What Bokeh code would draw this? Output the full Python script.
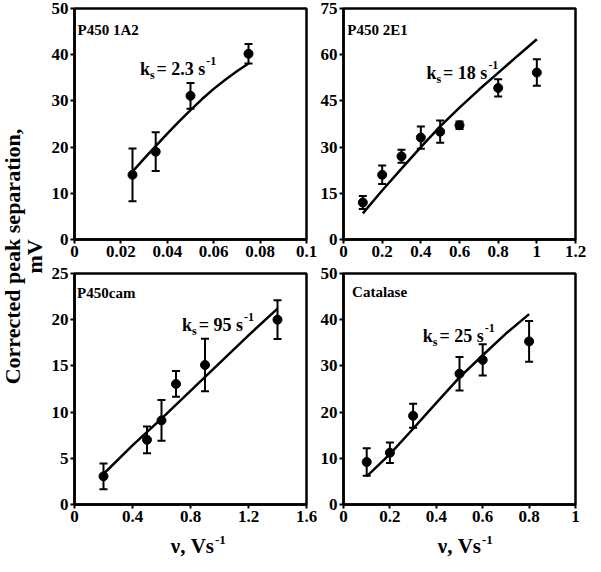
from bokeh.plotting import figure
from bokeh.models import Range1d, FixedTicker, Whisker, TeeHead, ColumnDataSource, Label
from bokeh.layouts import row, column
from bokeh.embed import file_html
from bokeh.resources import INLINE

FONT = "Liberation Serif"

# ---------------- data ----------------
# P450 1A2
x1 = [0.025, 0.035, 0.05, 0.075]
y1 = [14.0, 19.0, 31.1, 40.2]
e1 = [5.7, 4.2, 2.8, 2.1]
fit1_x = [0.025, 0.03, 0.035, 0.04, 0.045, 0.05, 0.055, 0.06, 0.065, 0.07, 0.075]
fit1_y = [14.7, 17.5, 20.2, 22.9, 25.5, 28.0, 30.4, 32.6, 34.6, 36.4, 38.1]

# P450 2E1
x2 = [0.1, 0.2, 0.3, 0.4, 0.5, 0.6, 0.8, 1.0]
y2 = [12.0, 21.0, 27.0, 33.1, 35.0, 37.1, 49.2, 54.2]
e2 = [2.1, 3.0, 2.1, 3.6, 3.6, 1.2, 2.8, 4.3]
fit2_x = [0.1, 0.2, 0.3, 0.4, 0.5, 0.6, 0.7, 0.8, 0.9, 1.0]
fit2_y = [8.5, 15.9, 23.0, 30.0, 36.7, 42.8, 48.6, 54.1, 59.6, 65.0]

# P450cam
x3 = [0.2, 0.5, 0.6, 0.7, 0.9, 1.4]
y3 = [3.05, 7.0, 9.1, 13.05, 15.1, 20.0]
e3 = [1.4, 1.45, 2.2, 1.4, 2.85, 2.1]
fit3_x = [0.2, 0.4, 0.6, 0.8, 1.0, 1.2, 1.4]
fit3_y = [3.3, 6.4, 9.3, 12.3, 15.3, 18.3, 21.2]

# Catalase
x4 = [0.1, 0.2, 0.3, 0.5, 0.6, 0.8]
y4 = [9.2, 11.2, 19.2, 28.3, 31.3, 35.3]
e4 = [3.0, 2.2, 2.6, 3.6, 3.4, 4.4]
fit4_x = [0.1, 0.2, 0.3, 0.4, 0.5, 0.6, 0.7, 0.8]
fit4_y = [6.1, 10.9, 16.4, 22.0, 27.5, 32.3, 37.0, 41.2]

# ticks
xt1 = [0, 0.02, 0.04, 0.06, 0.08, 0.1]
xl1 = ["0", "0.02", "0.04", "0.06", "0.08", "0.1"]
yt1 = [0, 10, 20, 30, 40, 50]
xt2 = [0, 0.2, 0.4, 0.6, 0.8, 1.0, 1.2]
xl2 = ["0", "0.2", "0.4", "0.6", "0.8", "1", "1.2"]
yt2 = [0, 15, 30, 45, 60, 75]
xt3 = [0, 0.4, 0.8, 1.2, 1.6]
xl3 = ["0", "0.4", "0.8", "1.2", "1.6"]
yt3 = [0, 5, 10, 15, 20, 25]
xt4 = [0, 0.2, 0.4, 0.6, 0.8, 1.0]
xl4 = ["0", "0.2", "0.4", "0.6", "0.8", "1"]
yt4 = [0, 10, 20, 30, 40, 50]

titles = ["P450 1A2", "P450 2E1", "P450cam", "Catalase"]
title_pos = [(0.0013, 45.4), (0.02, 68.1), (0.018, 22.9), (0.037, 45.9)]
ks_values = ["2.3", "18", "95", "25"]
ks_pos = [(0.0282, 36.8), (0.429, 54.0), (0.742, 19.4), (0.342, 36.4)]

XTITLE = "\u03bd, Vs"
YTITLE = ["Corrected peak separation,", "mV"]

FW, FH = 232, 231
LEFT, RIGHT = 24, 11


def text_w(s, size):
    # Times/Liberation Serif Bold advance widths (em)
    w = {"=": 0.570, " ": 0.25, ".": 0.25, "s": 0.389}
    return sum(w.get(c, 0.5) for c in s) * size


def make_panel(xs, ys, es, fx, fy, xmax, ymax, xt, xl, yt, title, tpos, ks, kpos,
               top, bottom):
    p = figure(frame_width=FW, frame_height=FH,
               x_range=Range1d(0, xmax), y_range=Range1d(0, ymax),
               output_backend="svg", toolbar_location=None,
               min_border_left=LEFT, min_border_right=RIGHT,
               min_border_top=top, min_border_bottom=bottom)
    p.xgrid.visible = False
    p.ygrid.visible = False
    p.outline_line_color = "black"
    p.outline_line_width = 2.5
    p.outline_line_alpha = 1.0
    p.background_fill_color = "white"
    p.border_fill_color = "white"
    for ax in (p.xaxis[0], p.yaxis[0]):
        ax.axis_line_width = 2.5
        ax.axis_line_color = "black"
        ax.major_tick_line_width = 2
        ax.major_tick_line_color = "black"
        ax.major_tick_out = 4
        ax.major_tick_in = 0
        ax.minor_tick_line_color = None
        ax.major_label_text_font = FONT
        ax.major_label_text_font_style = "bold"
        ax.major_label_text_font_size = "17px"
        ax.major_label_text_color = "black"
        ax.major_label_standoff = 2
    p.xaxis[0].ticker = FixedTicker(ticks=xt, minor_ticks=[])
    p.xaxis[0].major_label_overrides = {t: l for t, l in zip(xt, xl)}
    p.yaxis[0].ticker = FixedTicker(ticks=yt, minor_ticks=[])
    p.yaxis[0].major_label_overrides = {t: str(t) for t in yt}

    src = ColumnDataSource(dict(x=xs, y=ys,
                                lower=[y - e for y, e in zip(ys, es)],
                                upper=[y + e for y, e in zip(ys, es)]))
    w = Whisker(source=src, base="x", lower="lower", upper="upper",
                line_width=2, line_color="black",
                upper_head=TeeHead(size=8, line_width=2, line_color="black"),
                lower_head=TeeHead(size=8, line_width=2, line_color="black"))
    p.add_layout(w)
    p.line(fx, fy, line_width=2.5, line_color="black")
    p.scatter("x", "y", source=src, size=9, color="black")

    p.add_layout(Label(x=tpos[0], y=tpos[1], text=title, text_font=FONT,
                       text_font_style="bold", text_font_size="15px",
                       text_color="black", text_align="left",
                       text_baseline="alphabetic"))
    big, small = 18, 12
    kw = 0.556 * big
    sw = 0.389 * small
    main = "= " + ks + " s"
    mx = kw + sw + 2
    pieces = [("k", 0, 0, big), ("s", kw, -6, small), (main, mx, 0, big),
              ("-1", mx + text_w(main, big) + 1, 8, small)]
    for txt, dx, dy, sz in pieces:
        p.add_layout(Label(x=kpos[0], y=kpos[1], x_offset=dx, y_offset=dy,
                           text=txt, text_font=FONT, text_font_style="bold",
                           text_font_size=f"{sz}px", text_color="black",
                           text_align="left", text_baseline="alphabetic"))
    return p


TOP, B1, T3, B3 = 8, 26, 8, 24
p1 = make_panel(x1, y1, e1, fit1_x, fit1_y, 0.1, 50, xt1, xl1, yt1, titles[0], title_pos[0],
                ks_values[0], ks_pos[0], TOP, B1)
p2 = make_panel(x2, y2, e2, fit2_x, fit2_y, 1.2, 75, xt2, xl2, yt2, titles[1], title_pos[1],
                ks_values[1], ks_pos[1], TOP, B1)
p3 = make_panel(x3, y3, e3, fit3_x, fit3_y, 1.6, 25, xt3, xl3, yt3, titles[2], title_pos[2],
                ks_values[2], ks_pos[2], T3, B3)
p4 = make_panel(x4, y4, e4, fit4_x, fit4_y, 1.0, 50, xt4, xl4, yt4, titles[3], title_pos[3],
                ks_values[3], ks_pos[3], T3, B3)

# x-axis titles strip below the bottom row
PW = LEFT + FW + RIGHT
XT_H = 34
xf = figure(width=2 * PW, height=XT_H, x_range=Range1d(0, 1), y_range=Range1d(0, 1),
            output_backend="svg", toolbar_location=None,
            x_axis_location=None, y_axis_location=None, min_border=0)
xf.xgrid.visible = False
xf.ygrid.visible = False
xf.outline_line_color = None
for k in range(2):
    ax_x = k * PW + LEFT + 0.61 * FW
    xf.add_layout(Label(x=ax_x, y=XT_H / 2, x_units="screen", y_units="screen",
                        text=XTITLE, text_font=FONT, text_font_style="bold",
                        text_font_size="21px", text_color="black",
                        text_align="right", text_baseline="middle"))
    xf.add_layout(Label(x=ax_x + 1, y=XT_H / 2 + 6, x_units="screen", y_units="screen",
                        text="-1", text_font=FONT, text_font_style="bold",
                        text_font_size="13px", text_color="black",
                        text_align="left", text_baseline="middle"))

total_h = (TOP + FH + B1) + (T3 + FH + B3) + XT_H
lf = figure(width=48, height=total_h, x_range=Range1d(0, 1), y_range=Range1d(0, 1),
            output_backend="svg", toolbar_location=None,
            x_axis_location=None, y_axis_location=None, min_border=0)
lf.xgrid.visible = False
lf.ygrid.visible = False
lf.outline_line_color = None
cy = total_h - 256
lf.add_layout(Label(x=12, y=cy, x_units="screen", y_units="screen", angle=90,
                    angle_units="deg", text=YTITLE[0], text_font=FONT,
                    text_font_style="bold", text_font_size="22px", text_color="black",
                    text_align="center", text_baseline="middle"))
lf.add_layout(Label(x=34, y=cy, x_units="screen", y_units="screen", angle=90,
                    angle_units="deg", text=YTITLE[1], text_font=FONT,
                    text_font_style="bold", text_font_size="22px", text_color="black",
                    text_align="center", text_baseline="middle"))

layout = row(lf, column(row(p1, p2), row(p3, p4), xf))
open("out.html", "w").write(file_html(layout, INLINE, title="Corrected peak separation"))
